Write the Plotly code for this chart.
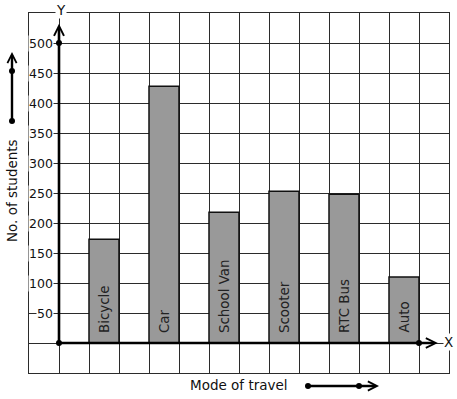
import plotly.graph_objects as go

# ---- data ----
categories = ["Bicycle", "Car", "School Van", "Scooter", "RTC Bus", "Auto"]
students = [173, 428, 218, 253, 248, 110]
y_ticks = [50, 100, 150, 200, 250, 300, 350, 400, 450, 500]
y_tick_labels = [str(v) for v in y_ticks]

x_title = "Mode of travel"
y_title = "No. of students"

# bars sit in every other grid cell, starting one cell right of the y axis
x_pos = [2 * i + 1.5 for i in range(len(categories))]

FONT = "DejaVu Sans"
GRID = "#2b2b2b"

W, H = 457, 399
ML, MR, MT, MB = 29, 8, 13, 26
PW, PH = W - ML - MR, H - MT - MB


def px_x(p):
    return (p - ML) / PW


def px_y(p):
    return (H - MB - p) / PH


fig = go.Figure(
    go.Bar(
        x=x_pos,
        y=students,
        width=1,
        marker=dict(color="#999999", line=dict(color="#111111", width=1.5)),
        hoverinfo="skip",
    )
)

annotations = []
# y tick labels
for v, t in zip(y_ticks, y_tick_labels):
    annotations.append(dict(
        x=px_x(53.5), xref="paper", y=v, yref="y", text=t, showarrow=False,
        xanchor="right", yanchor="middle", bgcolor="white", borderpad=0,
        font=dict(family=FONT, size=12.5, color="#111"),
    ))
# bar labels (rotated, inside bars)
for xp, c in zip(x_pos, categories):
    annotations.append(dict(
        x=xp, xref="x", y=0, yref="y", text=c, showarrow=False,
        textangle=-90, xanchor="center", yanchor="bottom", yshift=8,
        font=dict(family=FONT, size=13.4, color="#222"),
    ))
# axis arrows (thick lines with open arrowheads)
annotations.append(dict(
    x=0, y=532, xref="x", yref="y", ax=0, ay=0, axref="x", ayref="y", text="",
    showarrow=True, arrowhead=5, arrowsize=0.75, arrowwidth=2.6, arrowcolor="black",
))
annotations.append(dict(
    x=12.63, y=0, xref="x", yref="y", ax=0, ay=0, axref="x", ayref="y", text="",
    showarrow=True, arrowhead=5, arrowsize=0.75, arrowwidth=2.6, arrowcolor="black",
))
# axis letters
annotations.append(dict(
    x=px_x(61), y=px_y(10), xref="paper", yref="paper", text="Y", showarrow=False,
    xanchor="center", yanchor="middle", bgcolor="white", borderpad=0,
    font=dict(family=FONT, size=13.5, color="#111"),
))
annotations.append(dict(
    x=px_x(448.5), y=px_y(342), xref="paper", yref="paper", text="X", showarrow=False,
    xanchor="center", yanchor="middle", bgcolor="white", borderpad=0,
    font=dict(family=FONT, size=13.5, color="#111"),
))
# axis titles
annotations.append(dict(
    x=px_x(12), y=px_y(191), xref="paper", yref="paper", text=y_title, showarrow=False,
    textangle=-90, xanchor="center", yanchor="middle",
    font=dict(family=FONT, size=13.5, color="#111"),
))
annotations.append(dict(
    x=px_x(238.5), y=px_y(385), xref="paper", yref="paper", text=x_title, showarrow=False,
    xanchor="center", yanchor="middle",
    font=dict(family=FONT, size=13.5, color="#111"),
))
# direction arrows beside titles
annotations.append(dict(
    x=px_x(12), y=px_y(52), xref="paper", yref="paper", ax=0, ay=69, text="",
    showarrow=True, arrowhead=5, arrowsize=0.75, arrowwidth=2.4, arrowcolor="black",
))
annotations.append(dict(
    x=px_x(379), y=px_y(386), xref="paper", yref="paper", ax=-71, ay=0, text="",
    showarrow=True, arrowhead=5, arrowsize=0.75, arrowwidth=2.4, arrowcolor="black",
))

shapes = []


def dot(x, y, xref, yref, r=3):
    return dict(type="circle", xref=xref, yref=yref, xsizemode="pixel", ysizemode="pixel",
                xanchor=x, yanchor=y, x0=-r, x1=r, y0=-r, y1=r,
                fillcolor="black", line=dict(color="black", width=0), layer="above")


shapes += [dot(0, 0, "x", "y"), dot(0, 500, "x", "y"), dot(12, 0, "x", "y")]
shapes += [dot(px_x(12), px_y(121), "paper", "paper"), dot(px_x(12), px_y(71), "paper", "paper")]
shapes += [dot(px_x(308), px_y(386), "paper", "paper"), dot(px_x(359), px_y(386), "paper", "paper")]

axis_common = dict(
    showticklabels=False, ticks="", showgrid=True, gridcolor=GRID, gridwidth=1,
    zeroline=False, showline=True, mirror=True, linecolor=GRID, linewidth=1,
    tickmode="linear", fixedrange=True,
)

fig.update_layout(
    width=W, height=H,
    margin=dict(l=ML, r=MR, t=MT, b=MB, pad=0),
    paper_bgcolor="white", plot_bgcolor="white",
    showlegend=False,
    xaxis=dict(range=[-1, 13], tick0=-1, dtick=1, **axis_common),
    yaxis=dict(range=[-50, 550], tick0=-50, dtick=50, **axis_common),
    annotations=annotations,
    shapes=shapes,
    font=dict(family=FONT),
)

fig.write_html("out.html", config={"displayModeBar": False})
